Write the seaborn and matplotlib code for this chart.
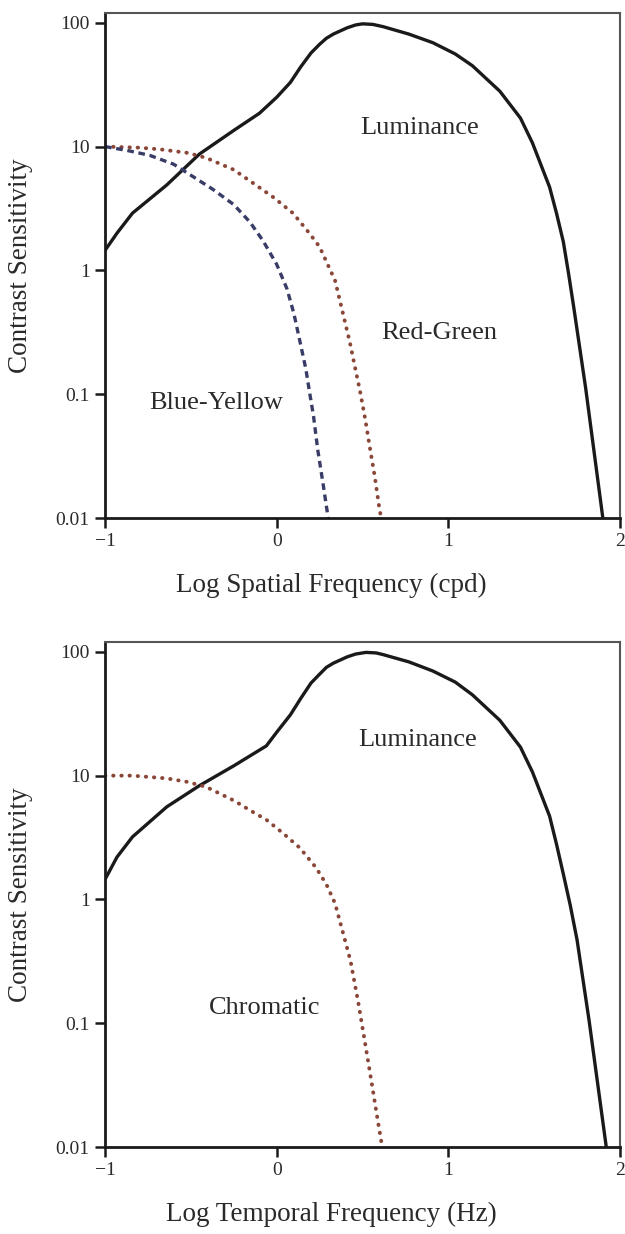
import matplotlib
matplotlib.use("Agg")
import matplotlib.pyplot as plt
import seaborn as sns
from matplotlib.ticker import FixedLocator, FixedFormatter, NullLocator

sns.set_theme(style="white")
plt.rcParams["font.family"] = ["Liberation Serif", "DejaVu Serif"]

# ---- spatial contrast sensitivity (log cpd vs sensitivity) ----
spatial_lum_x = [-1.00, -0.93, -0.84, -0.64, -0.45, -0.25, -0.10, 0.00, 0.08, 0.14,
                 0.20, 0.25, 0.29, 0.33, 0.41, 0.46, 0.50, 0.56, 0.62, 0.77,
                 0.91, 1.04, 1.14, 1.30, 1.42, 1.49, 1.59, 1.63, 1.67, 1.70,
                 1.73, 1.80, 1.90]
spatial_lum_s = [1.45, 2.0, 2.9, 4.9, 8.7, 13.5, 18.6, 25, 33, 44,
                 57, 67, 75, 81, 91, 96, 98, 97, 93, 81,
                 69, 56, 45, 28, 17, 10.7, 4.7, 2.9, 1.7, 0.95,
                 0.51, 0.112, 0.01]

rg_x = [-1.00, -0.80, -0.68, -0.52, -0.41, -0.25, -0.14, -0.02, 0.095, 0.19,
        0.25, 0.34, 0.386, 0.427, 0.456, 0.485, 0.514, 0.543, 0.572, 0.60, 0.61]
rg_s = [10, 9.8, 9.5, 8.9, 8.1, 6.5, 5.1, 3.9, 2.9, 2.0,
        1.55, 0.83, 0.45, 0.26, 0.166, 0.107, 0.065, 0.037, 0.0214, 0.0115, 0.01]

by_x = [-1.00, -0.87, -0.74, -0.60, -0.49, -0.37, -0.25, -0.155, -0.08, 0.00,
        0.06, 0.10, 0.14, 0.17, 0.19, 0.215, 0.24, 0.27, 0.30]
by_s = [10, 9.3, 8.5, 7.2, 5.75, 4.5, 3.4, 2.45, 1.74, 1.12,
        0.71, 0.45, 0.25, 0.16, 0.107, 0.066, 0.035, 0.019, 0.01]

# ---- temporal contrast sensitivity (log Hz vs sensitivity) ----
temporal_lum_x = [-1.00, -0.93, -0.84, -0.64, -0.45, -0.25, -0.06, 0.00, 0.08, 0.14,
                  0.20, 0.25, 0.29, 0.33, 0.41, 0.46, 0.52, 0.58, 0.62, 0.77,
                  0.91, 1.04, 1.14, 1.30, 1.42, 1.49, 1.59, 1.63, 1.67, 1.71,
                  1.75, 1.82, 1.92]
temporal_lum_s = [1.45, 2.2, 3.2, 5.6, 8.3, 12.0, 17.4, 22.4, 31, 42,
                  56, 66, 75, 81, 91, 96, 99, 98, 95, 83,
                  70, 57, 45, 28, 17, 10.7, 4.7, 2.8, 1.6, 0.9,
                  0.47, 0.105, 0.01]

chrom_x = [-1.00, -0.84, -0.64, -0.52, -0.41, -0.25, -0.14, -0.06, 0.04, 0.136,
           0.23, 0.29, 0.34, 0.386, 0.43, 0.475, 0.52, 0.555, 0.59, 0.615]
chrom_s = [10, 10, 9.5, 8.9, 8.1, 6.3, 5.1, 4.4, 3.4, 2.6,
           1.8, 1.32, 0.93, 0.54, 0.32, 0.148, 0.063, 0.032, 0.016, 0.01]

y_ticks = [0.01, 0.1, 1, 10, 100]
y_tick_labels = ["0.01", "0.1", "1", "10", "100"]
x_ticks = [-1, 0, 1, 2]
x_tick_labels = ["\u22121", "0", "1", "2"]

INK = "#1a1a1a"
TEXT = "#2a2a2a"
RG_COLOR = "#8a4636"
BY_COLOR = "#383c66"

fig = plt.figure(figsize=(6.25, 12.34), dpi=100)
ax1 = fig.add_axes([0.168, 0.5802, 0.824, 0.4093])
ax2 = fig.add_axes([0.168, 0.0705, 0.824, 0.4092])


def style_axes(ax, xlabel):
    ax.set_yscale("log")
    ax.set_xlim(-1, 2)
    ax.set_ylim(0.01, 120)
    ax.yaxis.set_major_locator(FixedLocator(y_ticks))
    ax.yaxis.set_major_formatter(FixedFormatter(y_tick_labels))
    ax.yaxis.set_minor_locator(NullLocator())
    ax.xaxis.set_major_locator(FixedLocator(x_ticks))
    ax.xaxis.set_major_formatter(FixedFormatter(x_tick_labels))
    ax.tick_params(axis="both", which="major", bottom=True, left=True,
                   direction="out", length=7, width=1.8, color=INK,
                   labelsize=14, labelcolor=TEXT, pad=4)
    for side in ("left", "bottom"):
        ax.spines[side].set_color(INK)
        ax.spines[side].set_linewidth(2.0)
    for side in ("top", "right"):
        ax.spines[side].set_color("#555555")
        ax.spines[side].set_linewidth(1.5)
    ax.set_xlabel(xlabel, fontsize=19.5, color=TEXT)
    ax.set_ylabel("Contrast Sensitivity", fontsize=19.5, color=TEXT)
    ax.xaxis.set_label_coords(0.44, -0.108)
    ax.yaxis.set_label_coords(-0.14, 0.5)
    ax.grid(False)


lum_kw = dict(color=INK, linewidth=2.4, errorbar=None, solid_capstyle="butt",
              solid_joinstyle="round")
dot_kw = dict(color=RG_COLOR, linewidth=2.8, errorbar=None,
              linestyle=(0, (0.1, 2.0)), dash_capstyle="round")
dash_kw = dict(color=BY_COLOR, linewidth=2.4, errorbar=None,
               linestyle=(0, (2.0, 1.4)), dash_capstyle="butt")

# Spatial panel
sns.lineplot(x=spatial_lum_x, y=spatial_lum_s, ax=ax1, **lum_kw)
sns.lineplot(x=rg_x, y=rg_s, ax=ax1, **dot_kw)
sns.lineplot(x=by_x, y=by_s, ax=ax1, **dash_kw)
style_axes(ax1, "Log Spatial Frequency (cpd)")
ax1.text(0.83, 14.2, "Luminance", ha="center", va="center", fontsize=19, color=TEXT)
ax1.text(0.945, 0.31, "Red-Green", ha="center", va="center", fontsize=19, color=TEXT)
ax1.text(-0.35, 0.085, "Blue-Yellow", ha="center", va="center", fontsize=19, color=TEXT)

# Temporal panel
sns.lineplot(x=temporal_lum_x, y=temporal_lum_s, ax=ax2, **lum_kw)
sns.lineplot(x=chrom_x, y=chrom_s, ax=ax2, **dot_kw)
style_axes(ax2, "Log Temporal Frequency (Hz)")
ax2.text(0.82, 19.5, "Luminance", ha="center", va="center", fontsize=19, color=TEXT)
ax2.text(-0.07, 0.132, "Chromatic", ha="center", va="center", fontsize=19, color=TEXT)

fig.savefig("out.png", dpi=100, facecolor="white")
